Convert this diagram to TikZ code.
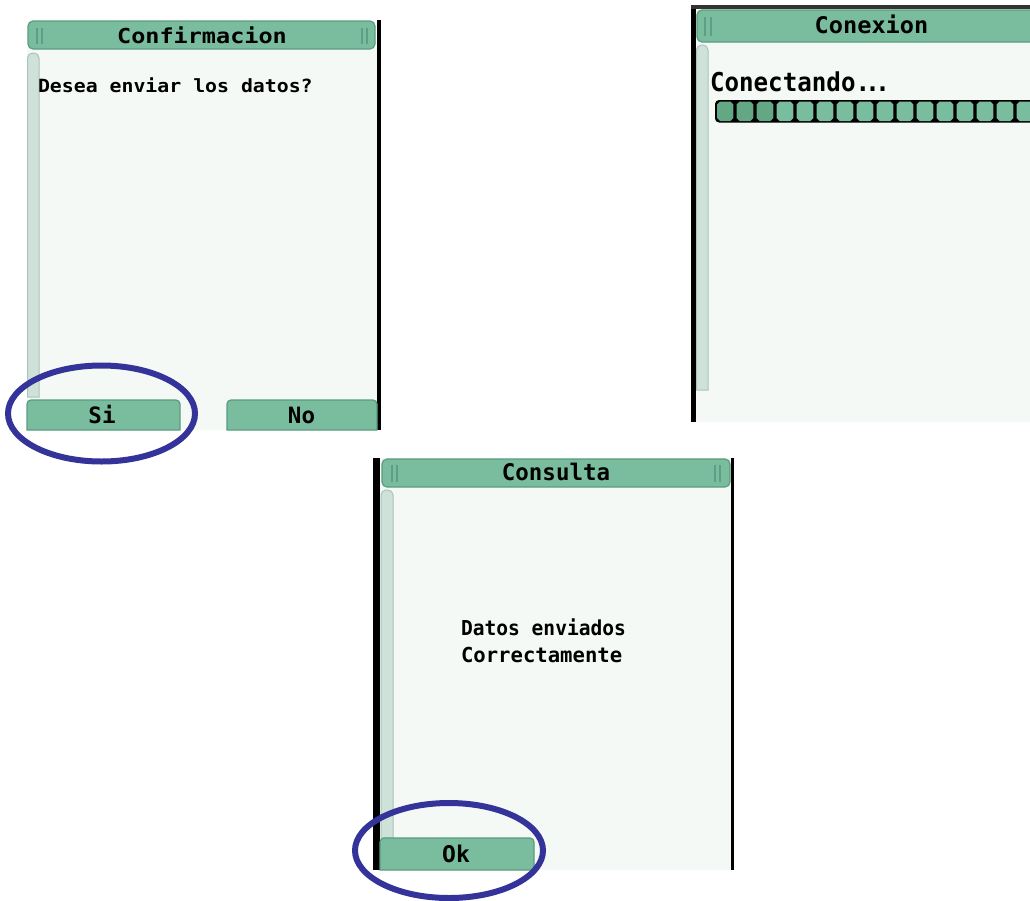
\documentclass[tikz,border=0pt]{standalone}
\usepackage{fontspec}
\newfontfamily\pix{DejaVu Sans Mono}
\definecolor{tgreen}{HTML}{79BC9E}
\definecolor{tedge}{HTML}{5A9C80}
\definecolor{dgreen}{HTML}{63A785}
\definecolor{bgc}{HTML}{F4F9F6}
\definecolor{scrollc}{HTML}{CFE2DA}
\definecolor{scrolle}{HTML}{A9C4B8}
\definecolor{gripc}{HTML}{5E9E82}
\definecolor{ringc}{HTML}{343399}
\newcommand\pxt[3]{\scalebox{#2}[1]{\fontsize{#1pt}{#1pt}\selectfont\pix\bfseries #3}}
\tikzset{
  screenbg/.style={fill=bgc},
  bordr/.style={fill=black},
  titlebar/.style={fill=tgreen, draw=tedge, line width=1.2pt, rounded corners=5pt},
  gripline/.style={draw=gripc, line width=1.2pt},
  scrollbar/.style={fill=scrollc, draw=scrolle, line width=1pt},
  btn/.style={fill=tgreen, draw=tedge, line width=1.2pt},
  txt/.style={inner sep=0pt, outer sep=0pt},
  ring/.style={draw=ringc, line width=6pt},
  cellL/.style={fill=tgreen},
  cellD/.style={fill=dgreen}
}
\begin{document}
\begin{tikzpicture}[x=1pt,y=-1pt]
\useasboundingbox (0,0) rectangle (1030,900);

% ---------------- Screen 1: Confirmacion ----------------
\fill[screenbg] (27,48) rectangle (377,430);
\fill[bordr] (377,20) rectangle (381,430);
\draw[titlebar] (28,21) rectangle (375,49);
\draw[gripline] (37,28)--(37,44) (42,28)--(42,44) (362,28)--(362,44) (367,28)--(367,44);
\filldraw[scrollbar] (27.5,397) [rounded corners=5pt]-- (27.5,53) -- (39,53) [sharp corners]-- (39,397) -- cycle;
\filldraw[btn] (27,430) [rounded corners=4pt]-- (27,400) -- (180,400) [sharp corners]-- (180,430) -- cycle;
\filldraw[btn] (227,430) [rounded corners=4pt]-- (227,400) -- (377,400) [sharp corners]-- (377,430) -- cycle;
\node[txt, anchor=base] (t1) at (202,43.3) {\pxt{20.6}{1.14}{Confirmacion}};
\node[txt, anchor=base west] (q1) at (38,92.3) {\pxt{18.2}{1.09}{Desea enviar los datos?}};
\node[txt, anchor=base] (si) at (102,423) {\pxt{22.5}{1.0}{Si}};
\node[txt, anchor=base] (no) at (301.5,423) {\pxt{22.5}{1.0}{No}};
\draw[ring] (101.5,413.5) ellipse [x radius=93.5pt, y radius=48pt];

% ---------------- Screen 2: Conexion ----------------
\begin{scope}
\clip (0,0) rectangle (1030,900);
\fill[screenbg] (695,8) rectangle (1040,422);
\fill[bordr] (691,5) rectangle (696,422);
\fill[black!80] (691,5) rectangle (1040,9);
\draw[titlebar] (697,10) rectangle (1045,42);
\draw[gripline] (705,17)--(705,36) (711,17)--(711,36);
\filldraw[scrollbar] (696.5,390) [rounded corners=5pt]-- (696.5,45) -- (708,45) [sharp corners]-- (708,390) -- cycle;
\node[txt, anchor=base] (t2) at (871.5,33.3) {\pxt{22.9}{1.03}{Conexion}};
\node[txt, anchor=base west] (c2) at (710,91.7) {\pxt{26}{0.93}{Conectando.\kern-5pt.\kern-5pt.}};
% progress bar
\fill[black, rounded corners=4pt] (715,100) rectangle (1045,122.5);
\foreach \k in {0,...,15}{
  \pgfmathsetmacro{\l}{\k==0 ? 717 : 735+20*(\k-1)+1.6}
  \pgfmathsetmacro{\r}{735+20*\k-1.6}
  \ifnum\k<3 \def\cst{cellD}\else\def\cst{cellL}\fi
  \fill[\cst] (\l+3,101.6) -- (\r-3,101.6) -- (\r,104.6) -- (\r,118) -- (\r-3,121) -- (\l+3,121) -- (\l,118) -- (\l,104.6) -- cycle;
}
\end{scope}

% ---------------- Screen 3: Consulta ----------------
\fill[screenbg] (380,458) rectangle (731,870);
\fill[bordr] (373,458) rectangle (380,870);
\fill[bordr] (731,458) rectangle (734,870);
\draw[titlebar] (382,459) rectangle (730,487);
\draw[gripline] (392,465)--(392,482) (397,465)--(397,482) (715,465)--(715,482) (720,465)--(720,482);
\filldraw[scrollbar] (381,838) [rounded corners=5pt]-- (381,490) -- (393,490) [sharp corners]-- (393,838) -- cycle;
\filldraw[btn] (380,870) [rounded corners=4pt]-- (380,838) -- (534,838) [sharp corners]-- (534,870) -- cycle;
\node[txt, anchor=base] (t3) at (556,480) {\pxt{22.9}{0.98}{Consulta}};
\node[txt, anchor=base west] (m1) at (461,635) {\pxt{20.6}{0.95}{Datos enviados}};
\node[txt, anchor=base west] (m2) at (461,662) {\pxt{20.6}{1.0}{Correctamente}};
\node[txt, anchor=base] (ok) at (456,862) {\pxt{23}{1.0}{Ok}};
\draw[ring] (449,850.5) ellipse [x radius=94pt, y radius=47.5pt];
\end{tikzpicture}
\end{document}
